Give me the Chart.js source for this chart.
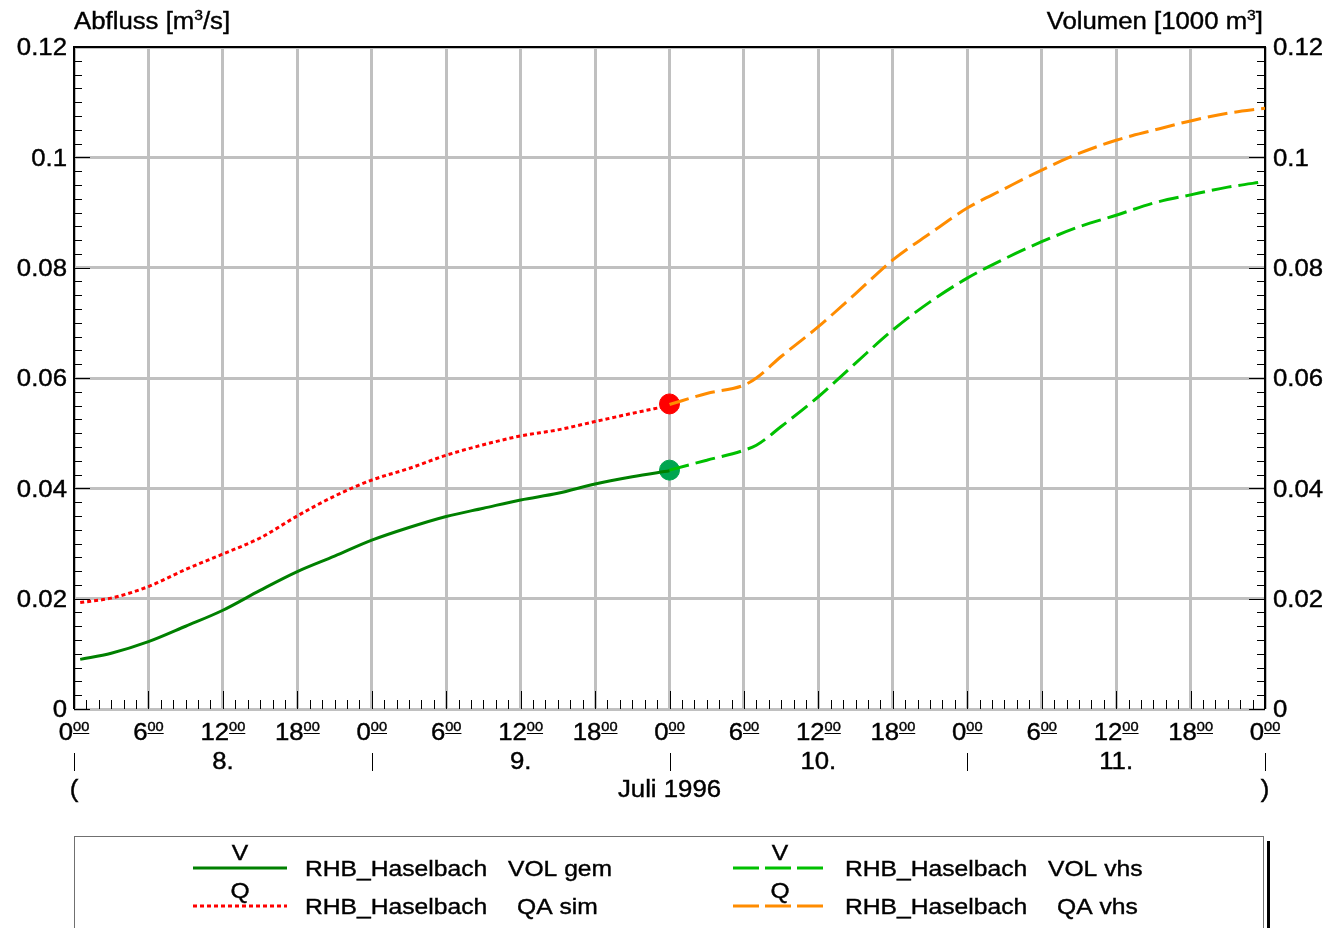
<!DOCTYPE html>
<html>
<head>
<meta charset="utf-8">
<script src="https://cdn.jsdelivr.net/npm/chart.js@4"></script>
<style>
html, body { margin: 0; padding: 0; background: #fff; }
</style>
</head>
<body>
<canvas id="c" width="1328" height="928"></canvas>
<script>
// hours from 8. Juli 1996 0:00
const hoursSim = [0.5, 3, 6, 9, 12, 15, 18, 21, 24, 27, 30, 33, 36, 39, 42, 45, 48];
const volGem   = [0.0090, 0.0101, 0.0122, 0.0150, 0.0179, 0.0215, 0.0249, 0.0277, 0.0306, 0.0329, 0.0349, 0.0364, 0.0379, 0.0391, 0.0408, 0.0421, 0.0432];
const qaSim    = [0.0193, 0.0201, 0.0222, 0.0253, 0.0281, 0.0310, 0.0350, 0.0386, 0.0415, 0.0436, 0.0460, 0.0479, 0.0495, 0.0506, 0.0521, 0.0536, 0.0550];

const hoursVhs = [48, 51, 54, 55, 57, 60, 63, 66, 69, 72, 75, 78, 81, 84, 87, 90, 93, 96];
const volVhs   = [0.0433, 0.0451, 0.0469, 0.0478, 0.0512, 0.0566, 0.0627, 0.0687, 0.0738, 0.0781, 0.0816, 0.0847, 0.0874, 0.0895, 0.0917, 0.0932, 0.0946, 0.0956];
const qaVhs    = [0.0552, 0.0572, 0.0587, 0.0600, 0.0639, 0.0693, 0.0753, 0.0814, 0.0862, 0.0908, 0.0943, 0.0977, 0.1007, 0.1031, 0.1049, 0.1066, 0.1080, 0.1089];

// current value markers at 10. 0:00
const markerHour = 48;
const markerQ = 0.0553;
const markerV = 0.0433;

const yTickLabels = ['0', '0.02', '0.04', '0.06', '0.08', '0.1', '0.12'];
const hourLabels = ['0', '6', '12', '18'];
const dayLabels = ['8.', '9.', '10.', '11.'];

const FONT = '"Liberation Sans", Arial, sans-serif';
const SX = 1.12;

function pts(xs, ys) {
    return xs.map((h, i) => ({x: h, y: ys[i]}));
}

function txt(ctx, s, x, y, align, size) {
    ctx.save();
    ctx.font = size + 'px ' + FONT;
    let w = ctx.measureText(s).width * SX;
    let x0 = align === 'center' ? x - w / 2 : (align === 'right' ? x - w : x);
    ctx.translate(x0, y);
    ctx.scale(SX, 1);
    ctx.textAlign = 'left';
    ctx.textBaseline = 'middle';
    ctx.fillStyle = '#000';
    ctx.strokeStyle = '#000';
    ctx.lineWidth = 0.4;
    ctx.fillText(s, 0, 0);
    ctx.strokeText(s, 0, 0);
    ctx.restore();
    return w;
}

function textWidth(ctx, s, size) {
    ctx.save();
    ctx.font = size + 'px ' + FONT;
    let w = ctx.measureText(s).width * SX;
    ctx.restore();
    return w;
}

const decor = {
    id: 'decor',
    beforeDatasetsDraw(chart) {
        const {ctx, chartArea: a, scales} = chart;
        const x = scales.x, y = scales.y;
        ctx.save();
        ctx.strokeStyle = '#000';
        ctx.lineWidth = 1;
        ctx.beginPath();
        for (let h = 0; h <= 96; h++) {
            let px = Math.round(x.getPixelForValue(h)) + 0.5;
            let len = h % 6 === 0 ? 18 : 9;
            ctx.moveTo(px, a.bottom);
            ctx.lineTo(px, a.bottom - len);
        }
        for (let i = 0; i <= 48; i++) {
            let py = Math.round(y.getPixelForValue(i * 0.0025)) + 0.5;
            let len = i % 8 === 0 ? 16 : 8;
            ctx.moveTo(a.left, py); ctx.lineTo(a.left + len, py);
            ctx.moveTo(a.right, py); ctx.lineTo(a.right - len, py);
        }
        ctx.stroke();
        ctx.lineWidth = 2;
        ctx.beginPath();
        ctx.moveTo(a.left, a.bottom);
        ctx.lineTo(a.left, a.top);
        ctx.lineTo(a.right, a.top);
        ctx.lineTo(a.right, a.bottom);
        ctx.stroke();
        ctx.restore();
    },
    afterDraw(chart) {
        const {ctx, chartArea: a, scales} = chart;
        const x = scales.x, y = scales.y;

        // y labels both sides
        yTickLabels.forEach((s, i) => {
            let py = y.getPixelForValue(i * 0.02) + 2;
            txt(ctx, s, a.left - 7, py, 'right', 23);
            txt(ctx, s, a.right + 8, py, 'left', 23);
        });

        // axis titles
        let w = txt(ctx, 'Abfluss [m', a.left, 23, 'left', 23);
        let w3 = txt(ctx, '3', a.left + w, 16, 'left', 14);
        txt(ctx, '/s]', a.left + w + w3, 23, 'left', 23);

        let wa = textWidth(ctx, 'Volumen [1000 m', 23);
        let wb = textWidth(ctx, '3', 14);
        let wc = textWidth(ctx, ']', 23);
        let xs = a.right - 2 - wa - wb - wc;
        txt(ctx, 'Volumen [1000 m', xs, 23, 'left', 23);
        txt(ctx, '3', xs + wa, 16, 'left', 14);
        txt(ctx, ']', xs + wa + wb, 23, 'left', 23);

        // hour labels with underlined superscript 00
        for (let h = 0; h <= 96; h += 6) {
            let px = x.getPixelForValue(h);
            let main = hourLabels[(h / 6) % 4];
            let wm = textWidth(ctx, main, 23);
            let ws = textWidth(ctx, '00', 13);
            let x0 = px - (wm + ws) / 2;
            txt(ctx, main, x0, 734, 'left', 23);
            txt(ctx, '00', x0 + wm, 727, 'left', 13);
            ctx.save();
            ctx.strokeStyle = '#000';
            ctx.lineWidth = 1;
            ctx.beginPath();
            ctx.moveTo(x0 + wm, 733.5);
            ctx.lineTo(x0 + wm + ws, 733.5);
            ctx.stroke();
            ctx.restore();
        }

        // day labels and separators
        ctx.save();
        ctx.strokeStyle = '#000';
        ctx.lineWidth = 1;
        ctx.beginPath();
        for (let d = 0; d <= 4; d++) {
            let px = Math.round(x.getPixelForValue(d * 24)) + 0.5;
            ctx.moveTo(px, 753);
            ctx.lineTo(px, 771);
        }
        ctx.stroke();
        ctx.restore();
        dayLabels.forEach((s, d) => {
            txt(ctx, s, x.getPixelForValue(d * 24 + 12), 763, 'center', 23);
        });
        txt(ctx, '(', a.left, 791, 'center', 23);
        txt(ctx, 'Juli 1996', x.getPixelForValue(48), 791, 'center', 23);
        txt(ctx, ')', a.right, 791, 'center', 23);

        // legend box
        ctx.save();
        ctx.strokeStyle = '#707070';
        ctx.lineWidth = 1;
        ctx.strokeRect(74.5, 836.5, 1189, 120);
        ctx.strokeStyle = '#000';
        ctx.lineWidth = 3;
        ctx.beginPath();
        ctx.moveTo(1268.5, 841);
        ctx.lineTo(1268.5, 928);
        ctx.stroke();
        ctx.restore();

        const items = [
            {x1: 193, x2: 287, y: 868, color: '#008000', dash: [], sym: 'V', name: 'VOL gem', tx: 508},
            {x1: 193, x2: 287, y: 906, color: '#ff0000', dash: [4, 3], sym: 'Q', name: 'QA sim', tx: 517},
            {x1: 733, x2: 827, y: 868, color: '#00c000', dash: [26, 6], sym: 'V', name: 'VOL vhs', tx: 1048},
            {x1: 733, x2: 827, y: 906, color: '#ff8c00', dash: [26, 6], sym: 'Q', name: 'QA vhs', tx: 1057}
        ];
        items.forEach(it => {
            ctx.save();
            ctx.strokeStyle = it.color;
            ctx.lineWidth = 3;
            ctx.setLineDash(it.dash);
            ctx.beginPath();
            ctx.moveTo(it.x1, it.y);
            ctx.lineTo(it.x2, it.y);
            ctx.stroke();
            ctx.restore();
            txt(ctx, it.sym, (it.x1 + it.x2) / 2, it.y - 14, 'center', 22);
            txt(ctx, 'RHB_Haselbach', it.x2 + 18, it.y + 2, 'left', 22);
            txt(ctx, it.name, it.tx, it.y + 2, 'left', 22);
        });
    }
};

const gridCfg = {color: '#c0c0c0', lineWidth: 3, drawTicks: false};

new Chart(document.getElementById('c'), {
    type: 'line',
    data: {
        datasets: [
            {
                label: 'VOL gem',
                data: pts(hoursSim, volGem),
                borderColor: '#008000',
                borderWidth: 3,
                pointRadius: 0,
                cubicInterpolationMode: 'monotone'
            },
            {
                label: 'QA sim',
                data: pts(hoursSim, qaSim),
                borderColor: '#ff0000',
                borderWidth: 3,
                borderDash: [4, 3],
                pointRadius: 0,
                cubicInterpolationMode: 'monotone'
            },
            {
                label: 'VOL vhs',
                data: pts(hoursVhs, volVhs),
                borderColor: '#00c000',
                borderWidth: 3,
                borderDash: [20, 7],
                pointRadius: 0,
                cubicInterpolationMode: 'monotone'
            },
            {
                label: 'QA vhs',
                data: pts(hoursVhs, qaVhs),
                borderColor: '#ff8c00',
                borderWidth: 3,
                borderDash: [20, 7],
                pointRadius: 0,
                cubicInterpolationMode: 'monotone'
            },
            {
                label: 'Q now',
                data: [{x: markerHour, y: markerQ}],
                showLine: false,
                pointRadius: 10,
                pointBackgroundColor: '#ff0000',
                pointBorderColor: '#ff0000'
            },
            {
                label: 'V now',
                data: [{x: markerHour, y: markerV}],
                showLine: false,
                pointRadius: 10,
                pointBackgroundColor: '#00a550',
                pointBorderColor: '#00a550'
            }
        ]
    },
    options: {
        responsive: false,
        devicePixelRatio: 1,
        animation: false,
        layout: {padding: {top: 47, left: 0, right: 0, bottom: 0}},
        plugins: {legend: {display: false}, tooltip: {enabled: false}},
        scales: {
            x: {
                type: 'linear', min: 0, max: 96,
                ticks: {display: false, stepSize: 6},
                grid: gridCfg,
                border: {display: false},
                afterFit: s => { s.height = 219; }
            },
            y: {
                position: 'left', min: 0, max: 0.12,
                ticks: {display: false, stepSize: 0.02},
                grid: gridCfg,
                border: {display: false},
                afterFit: s => { s.width = 74; }
            },
            y2: {
                position: 'right', min: 0, max: 0.12,
                ticks: {display: false, stepSize: 0.02},
                grid: {display: false},
                border: {display: false},
                afterFit: s => { s.width = 63; }
            }
        }
    },
    plugins: [decor]
});
</script>
</body>
</html>
